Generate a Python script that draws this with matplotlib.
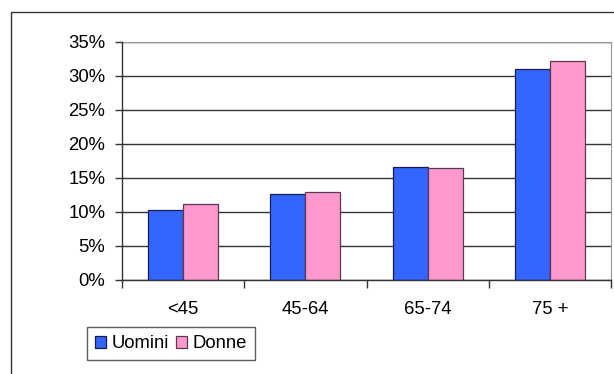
import numpy as np
import matplotlib
matplotlib.use("Agg")
import matplotlib.pyplot as plt
from matplotlib.patches import Rectangle
from matplotlib.ticker import FuncFormatter, FixedLocator

plt.rcParams['font.family'] = ['Liberation Sans', 'DejaVu Sans']

categories = ['<45', '45-64', '65-74', '75 +']
uomini = [10.3, 12.7, 16.6, 31.1]
donne = [11.2, 13.0, 16.4, 32.2]

W, H = 614, 374
fs = 13.3
fig = plt.figure(figsize=(W / 100, H / 100), dpi=100)

# outer chart frame (only top and left edges visible)
fig.add_artist(Rectangle((11 / W, -0.1), 1.1, 1 - 12 / H + 0.1,
                         transform=fig.transFigure, fill=False,
                         edgecolor='#333333', linewidth=1.0))

ax = fig.add_axes([122 / W, 1 - 280 / H, (611 - 122) / W, (280 - 42) / H])

x = np.arange(len(categories))
bw = 1 / 3.5
ax.bar(x - bw / 2, uomini, bw, color='#3366FF', edgecolor='#1a1a4d',
       linewidth=0.9, label='Uomini', zorder=3)
ax.bar(x + bw / 2, donne, bw, color='#FF99CC', edgecolor='#5a3a50',
       linewidth=0.9, label='Donne', zorder=3)

ax.set_xlim(-0.5, len(categories) - 0.5)
ax.set_ylim(0, 35)
ax.set_yticks(np.arange(0, 36, 5))
ax.yaxis.set_major_formatter(FuncFormatter(lambda v, p: f'{v:.0f}%'))
ax.set_xticks(x)
ax.set_xticklabels(categories)
ax.xaxis.set_minor_locator(FixedLocator(np.arange(-0.5, len(categories), 1)))
ax.tick_params(axis='x', which='major', length=0, pad=15, labelsize=fs)
ax.tick_params(axis='x', which='minor', length=6, width=1, color='#333333')
ax.tick_params(axis='y', length=5, width=1, color='#333333', labelsize=fs, pad=7)

ax.grid(axis='y', color='#333333', linewidth=1.0, zorder=0)
for s in ['top', 'right']:
    ax.spines[s].set_color('#999999')
for s in ['left', 'bottom']:
    ax.spines[s].set_color('#333333')
    ax.spines[s].set_linewidth(1.0)
    ax.spines[s].set_zorder(4)

leg = fig.legend(loc='lower left', bbox_to_anchor=(87 / W, 1 - 360 / H),
                 ncol=2, fontsize=fs, frameon=True, fancybox=False,
                 handlelength=0.6, handleheight=0.6, handletextpad=0.3,
                 columnspacing=0.4, borderpad=0.42, borderaxespad=0)
leg.get_frame().set_edgecolor('#333333')
leg.get_frame().set_linewidth(1.0)

fig.savefig('out.png', dpi=100)
